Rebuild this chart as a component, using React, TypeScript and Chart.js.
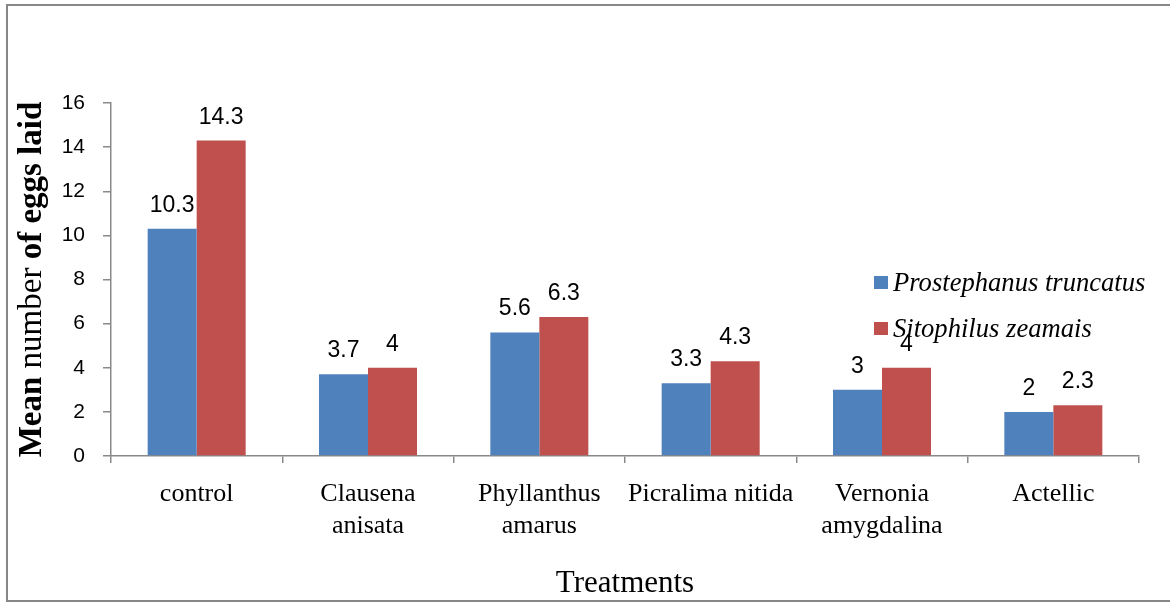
import React, { useEffect, useRef } from "react";
import { Chart, registerables } from "chart.js";

Chart.register(...registerables);

const categories: (string | string[])[] = [
  "control",
  ["Clausena", "anisata"],
  ["Phyllanthus", "amarus"],
  "Picralima nitida",
  ["Vernonia", "amygdalina"],
  "Actellic",
];
const seriesNames = ["Prostephanus truncatus", "Sitophilus zeamais"];
const prostephanus = [10.3, 3.7, 5.6, 3.3, 3, 2];
const sitophilus = [14.3, 4, 6.3, 4.3, 4, 2.3];
const colors = ["#4F81BD", "#C0504D"];
const yMin = 0;
const yMax = 16;
const yStep = 2;

const AXIS_GRAY = "#898989";

const overlayPlugin = {
  id: "overlay",
  afterDraw(chart: any) {
    const ctx = chart.ctx as CanvasRenderingContext2D;
    const area = chart.chartArea;
    ctx.save();

    // outer border
    ctx.strokeStyle = "#878787";
    ctx.lineWidth = 2;
    ctx.strokeRect(7, 5, 1175, 596);

    // data labels
    ctx.fillStyle = "#000";
    ctx.font = "23px 'Liberation Sans', Arial, sans-serif";
    ctx.textAlign = "center";
    ctx.textBaseline = "alphabetic";
    chart.data.datasets.forEach((ds: any, i: number) => {
      const meta = chart.getDatasetMeta(i);
      meta.data.forEach((bar: any, j: number) => {
        ctx.fillText(String(ds.data[j]), bar.x, bar.y - 17);
      });
    });

    // y title with mixed weights
    const parts = [
      { t: "Mean ", w: "bold" },
      { t: "number ", w: "normal" },
      { t: "of eggs laid", w: "bold" },
    ];
    const fam = "'Liberation Serif', 'Times New Roman', serif";
    let total = 0;
    const widths: number[] = [];
    parts.forEach((p) => {
      ctx.font = `${p.w} 33px ${fam}`;
      const w = ctx.measureText(p.t).width;
      widths.push(w);
      total += w;
    });
    ctx.save();
    ctx.translate(32, (area.top + area.bottom) / 2);
    ctx.rotate(-Math.PI / 2);
    ctx.textAlign = "left";
    ctx.textBaseline = "middle";
    let x = -total / 2;
    parts.forEach((p, k) => {
      ctx.font = `${p.w} 33px ${fam}`;
      ctx.fillText(p.t, x, 0);
      x += widths[k];
    });
    ctx.restore();

    // x title
    ctx.font = `31px ${fam}`;
    ctx.textAlign = "center";
    ctx.textBaseline = "alphabetic";
    ctx.fillText("Treatments", (area.left + area.right) / 2, 592);

    // legend
    const legY = [291, 337];
    ctx.textAlign = "left";
    ctx.font = `italic 26.6px ${fam}`;
    seriesNames.forEach((name, i) => {
      ctx.fillStyle = colors[i];
      ctx.fillRect(874, legY[i] - 15, 14, 13);
      ctx.fillStyle = "#000";
      ctx.fillText(name, 893, legY[i]);
    });

    ctx.restore();
  },
};

export default function App() {
  const canvasRef = useRef<HTMLCanvasElement | null>(null);

  useEffect(() => {
    if (!canvasRef.current) return;
    const chart = new Chart(canvasRef.current, {
      type: "bar",
      data: {
        labels: categories,
        datasets: [
          {
            label: seriesNames[0],
            data: prostephanus,
            backgroundColor: colors[0],
            barPercentage: 1,
            categoryPercentage: 0.572,
          },
          {
            label: seriesNames[1],
            data: sitophilus,
            backgroundColor: colors[1],
            barPercentage: 1,
            categoryPercentage: 0.572,
          },
        ],
      },
      options: {
        responsive: false,
        animation: false,
        layout: { padding: { left: 0, right: 31, top: 103, bottom: 0 } },
        plugins: {
          legend: { display: false },
          tooltip: { enabled: false },
          title: { display: false },
        },
        scales: {
          x: {
            grid: {
              display: true,
              drawOnChartArea: false,
              drawTicks: true,
              tickLength: 7,
              color: AXIS_GRAY,
              lineWidth: 1.5,
              offset: true,
            },
            border: { display: true, color: AXIS_GRAY, width: 1.5 },
            ticks: {
              color: "#000",
              font: { family: "'Liberation Serif', 'Times New Roman', serif", size: 26, lineHeight: 1.2 },
              padding: 16,
              maxRotation: 0,
              minRotation: 0,
              autoSkip: false,
            },
            afterFit: (s: any) => {
              s.height = 149;
            },
          },
          y: {
            min: yMin,
            max: yMax,
            grid: {
              display: true,
              drawOnChartArea: false,
              drawTicks: true,
              tickLength: 8,
              color: AXIS_GRAY,
              lineWidth: 1.5,
            },
            border: { display: true, color: AXIS_GRAY, width: 1.5 },
            ticks: {
              stepSize: yStep,
              color: "#000",
              font: { family: "'Liberation Sans', Arial, sans-serif", size: 21 },
              padding: 18,
            },
            afterFit: (s: any) => {
              s.width = 111;
            },
          },
        },
      },
      plugins: [overlayPlugin],
    });
    return () => chart.destroy();
  }, []);

  return (
    <div style={{ position: "absolute", left: 0, top: 0, width: 1170, height: 605, background: "#fff" }}>
      <canvas ref={canvasRef} width={1170} height={605} />
    </div>
  );
}
